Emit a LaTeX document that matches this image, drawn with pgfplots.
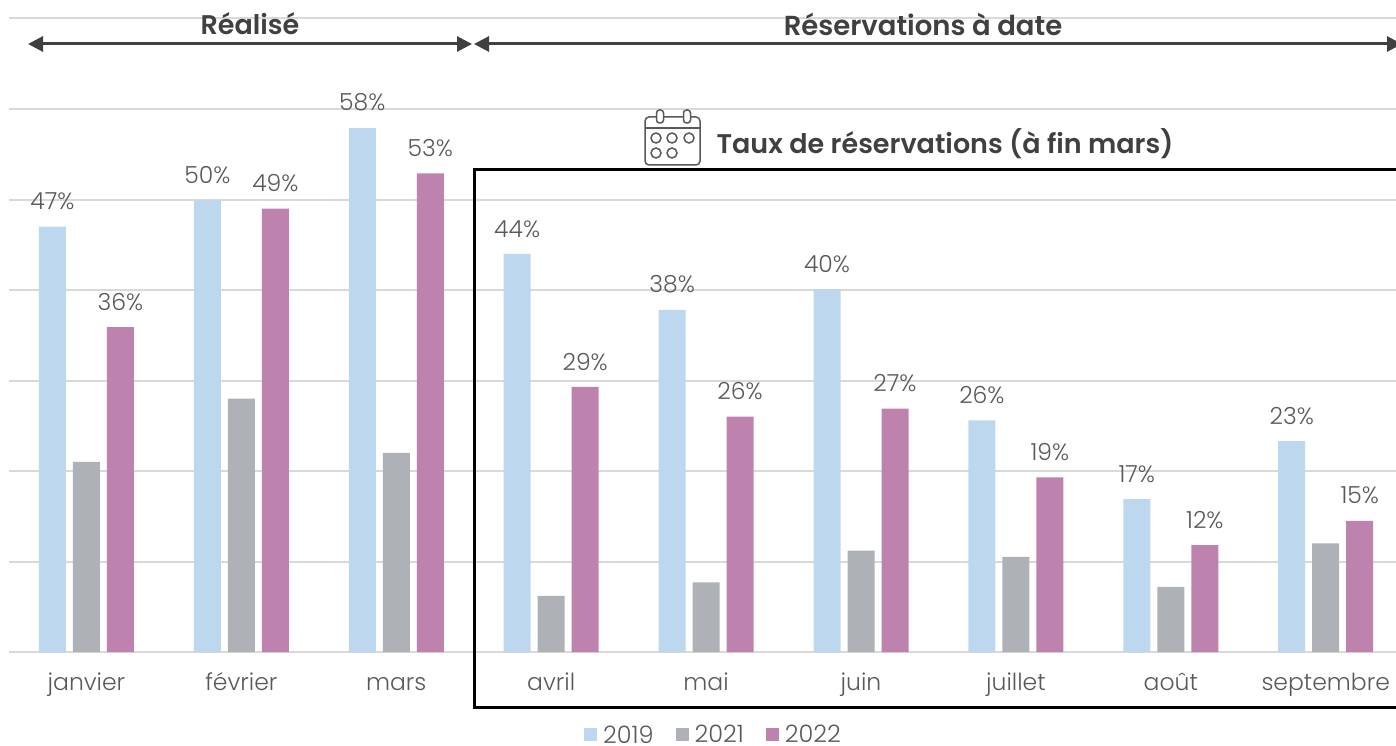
\documentclass[border=0pt]{standalone}
\usepackage{fontspec}
\setmainfont{Poppins Light}
\newfontfamily\boldf{Poppins SemiBold}
\usepackage{pgfplots}
\pgfplotsset{compat=1.18}
\usetikzlibrary{arrows.meta}
\definecolor{cA}{HTML}{BDD7EE}
\definecolor{cB}{HTML}{AEB2B7}
\definecolor{cC}{HTML}{BD82AE}
\definecolor{txt}{HTML}{595959}
\definecolor{dark}{HTML}{404040}
\definecolor{gridc}{HTML}{D9D9D9}
\begin{document}
\begin{tikzpicture}[x=1pt,y=-1pt]
\path[use as bounding box] (0,0) rectangle (1396,746);
\clip (0,0) rectangle (1396,746);
\coordinate (O) at (9,652);
\begin{axis}[
  at={(O)}, anchor=south west,
  scale only axis, width=1387pt, height=633.5pt,
  xmin=-0.5, xmax=8.454, ymin=0, ymax=70,
  axis x line*=bottom, axis y line*=left,
  x axis line style={draw=gridc,line width=2pt,-},
  y axis line style={draw=none},
  ytick={0,10,...,70}, yticklabels={}, ymajorgrids,
  grid style={gridc,line width=2pt},
  major tick length=0pt,
  xtick={0,...,8},
  xticklabels={janvier,février,mars,avril,mai,juin,juillet,août,septembre},
  xticklabel style={font=\fontsize{23.5}{26}\selectfont,text=txt,yshift=-18pt,text height=17pt,text depth=6pt},
  every axis plot/.append style={ybar,bar width=0.1743,draw=none},
  point meta=explicit symbolic,
  legend image code/.code={\fill[#1] (0pt,-6.5pt) rectangle (13pt,6.5pt);},
  legend style={draw=none,fill=none,at={(0.4145,-0.131)},anchor=west,legend columns=3,
    font=\fontsize{24}{24}\selectfont,text=txt,
    /tikz/every odd column/.append style={column sep=4pt},
    /tikz/every even column/.append style={column sep=20pt},inner sep=0pt},
]
\addplot[fill=cA,bar shift=-0.2195,
  nodes near coords,every node near coord/.append style={font=\fontsize{23.5}{26}\selectfont,text=txt,anchor=south,yshift=13pt,xshift=-34pt}]
 coordinates {(0,47.0)[47\%] (1,49.9)[50\%] (2,57.9)[58\%] (3,44.0)[44\%] (4,37.8)[38\%] (5,40.1)[40\%] (6,25.6)[26\%] (7,16.9)[17\%] (8,23.3)[23\%]};
\addplot[fill=cB,bar shift=0]
 coordinates {(0,21.0) (1,28.0) (2,22.0) (3,6.2) (4,7.7) (5,11.2) (6,10.5) (7,7.2) (8,12.0)};
\addplot[fill=cC,bar shift=0.2195,
  nodes near coords,every node near coord/.append style={font=\fontsize{23.5}{26}\selectfont,text=txt,anchor=south,yshift=13pt,xshift=34pt}]
 coordinates {(0,35.9)[36\%] (1,49.0)[49\%] (2,52.9)[53\%] (3,29.3)[29\%] (4,26.0)[26\%] (5,26.9)[27\%] (6,19.3)[19\%] (7,11.8)[12\%] (8,14.5)[15\%]};
\legend{2019,2021,2022}
\end{axis}
\draw[black,line width=3pt] (474,170) rectangle (1420,707);
\draw[dark,line width=3pt,{Triangle[length=15pt,width=15pt]}-{Triangle[length=15pt,width=15pt]}] (28,44) -- (472,44);
\draw[dark,line width=3pt,{Triangle[length=15pt,width=15pt]}-{Triangle[length=15pt,width=15pt]}] (474,44) -- (1402,44);
\node[text=dark,font=\boldf\fontsize{27}{30}\selectfont] at (250,24) {Réalisé};
\node[text=dark,font=\boldf\fontsize{27.5}{30}\selectfont] at (923,24) {Réservations à date};
\node[text=dark,font=\boldf\fontsize{27}{30}\selectfont] at (945,144) {Taux de réservations (à fin mars)};
\begin{scope}[txt,line width=1.5pt]
\draw[rounded corners=4pt] (645,117) rectangle (700,165);
\draw (645,128) -- (700,128);
\foreach \x in {660,687}{\draw[fill=white,rounded corners=3pt] (\x-3.5,110) rectangle (\x+3.5,123);}
\foreach \x in {656,672,689}{\draw (\x,138) circle (5pt);}
\foreach \x in {656,672}{\draw (\x,153) circle (5pt);}
\end{scope}
\end{tikzpicture}
\end{document}
